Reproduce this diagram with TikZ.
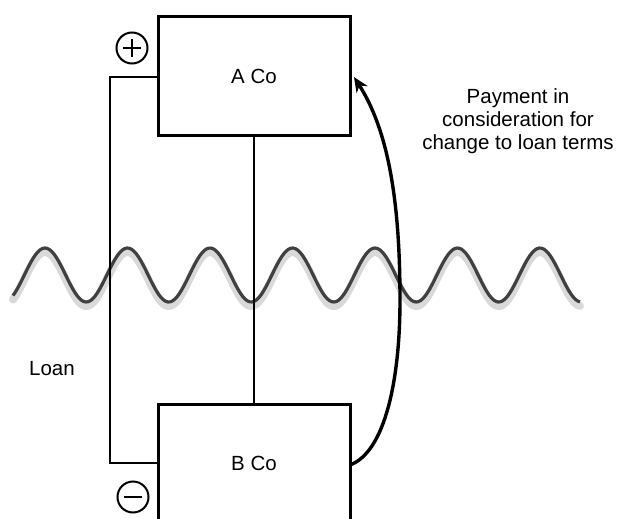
\documentclass[tikz,border=0pt]{standalone}
\usepackage{fontspec}
\setmainfont{Liberation Sans}
\usetikzlibrary{arrows.meta}
\begin{document}
\begin{tikzpicture}[x=1pt,y=-1pt,
  company/.style={draw=black, line width=3pt, fill=white, minimum width=192pt, minimum height=118pt, inner sep=0pt, font=\fontsize{20.5}{23}\selectfont},
  label/.style={font=\fontsize{20.5}{23}\selectfont, align=center, inner sep=0pt},
  sign/.style={draw=black, line width=2pt, circle, minimum size=31pt, inner sep=0pt},
  wire/.style={draw=black, line width=2.4pt},
  wave/.style={draw=black!75, line width=3.2pt},
  waveshadow/.style={draw=black!15, line width=8pt, line cap=round}]
\useasboundingbox (0,0) rectangle (619,519);
\clip (0,0) rectangle (619,519);
% wave with shadow
\draw[waveshadow] plot[domain=13:580, samples=250] (\x, {279-27*cos(4.3636*(\x-45))});
\draw[wave] plot[domain=13:580, samples=250] (\x, {275-27*cos(4.3636*(\x-45))});
% boxes
\node[company] (A) at (254,76) {A Co};
\node[company] (B) at (254,463) {B Co};
% vertical connector
\draw[black, line width=1.8pt] (A.south) -- (B.north);
% loop
\coordinate (tl) at (110,77);
\coordinate (bl) at (110,463);
\draw[wire] (A.west |- tl) -- (tl) -- (bl) -- (B.west |- bl);
% signs
\node[sign] (plus) at (132,48) {};
\draw[line width=2pt] ([xshift=-9pt]plus.center) -- ([xshift=9pt]plus.center)
  ([yshift=-9pt]plus.center) -- ([yshift=9pt]plus.center);
\node[sign] (minus) at (133,497) {};
\draw[line width=2pt] ([xshift=-9pt]minus.center) -- ([xshift=9pt]minus.center);
% arrow
\coordinate (bstart) at (350,465);
\coordinate (atip) at (354,77);
\draw[line width=3.4pt, -{Stealth[length=15pt,width=13pt]}] (bstart) .. controls (385,452) and (400,380) .. (400,300) .. controls (400,200) and (388,130) .. (atip);
% labels
\node[label] (pay) at (518,121) {Payment in\\consideration for\\change to loan terms};
\node[label] (loan) at (52,369) {Loan};
\end{tikzpicture}
\end{document}
